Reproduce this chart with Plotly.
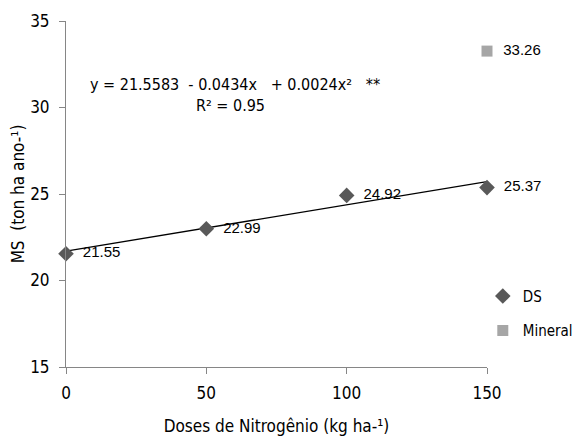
import numpy as np
import plotly.graph_objects as go

doses = [0, 50, 100, 150]
ds_values = [21.55, 22.99, 24.92, 25.37]
mineral_dose = [150]
mineral_values = [33.26]
x_ticks = [0, 50, 100, 150]
y_ticks = [15, 20, 25, 30, 35]

NARROW = "DejaVu Sans Condensed, Liberation Sans, Arial, sans-serif"
SANS = "Liberation Sans, Arial, sans-serif"

coef = np.polyfit(doses, ds_values, 1)
xfit = np.array([doses[0], doses[-1]])
yfit = np.polyval(coef, xfit)

fig = go.Figure()
fig.add_trace(go.Scatter(
    x=xfit, y=yfit, mode="lines", line=dict(color="#000000", width=1.3),
    showlegend=False, hoverinfo="skip", cliponaxis=False))
fig.add_trace(go.Scatter(
    x=doses, y=ds_values, mode="markers+text", name="DS",
    marker=dict(symbol="diamond", size=12, color="#595959"),
    text=["  " + f"{v:.2f}" for v in ds_values], textposition="middle right",
    textfont=dict(family=SANS, size=15, color="#000000"),
    cliponaxis=False, legendgroup="a"))
fig.add_trace(go.Scatter(
    x=mineral_dose, y=mineral_values, mode="markers+text", name="Mineral",
    marker=dict(symbol="square", size=11, color="#A6A6A6"),
    text=["  " + f"{v:.2f}" for v in mineral_values], textposition="middle right",
    textfont=dict(family=SANS, size=15, color="#000000"),
    cliponaxis=False, legendgroup="b"))

fig.add_annotation(
    x=0.052, y=0.817, xref="paper", yref="paper", xanchor="left", yanchor="middle",
    text="y = 21.5583  - 0.0434x   + 0.0024x²   **", showarrow=False,
    font=dict(family=NARROW, size=16, color="#000000"))
fig.add_annotation(
    x=0.39, y=0.756, xref="paper", yref="paper", xanchor="center", yanchor="middle",
    text="R² = 0.95", showarrow=False,
    font=dict(family=NARROW, size=16, color="#000000"))

# the page has an 8px body margin, so the figure is placed at (8, 8)
fig.update_layout(
    width=574, height=430,
    margin=dict(l=58, r=95, t=13, b=71, autoexpand=False),
    paper_bgcolor="white", plot_bgcolor="white",
    font=dict(family=NARROW, size=15, color="#000000"),
    legend=dict(x=0.99, xanchor="left", y=0.252, yanchor="top",
                font=dict(family=NARROW, size=15, color="#000000"),
                tracegroupgap=12, itemwidth=30, bgcolor="rgba(0,0,0,0)"),
    xaxis=dict(range=[0, 150], tickvals=x_ticks, ticks="outside", ticklen=6,
               tickcolor="#868686", showline=True, linecolor="#868686", linewidth=1,
               showgrid=False, zeroline=False, automargin=False,
               tickfont=dict(family=NARROW, size=17), ticklabelstandoff=5,
               title=dict(text="Doses de Nitrogênio (kg ha-¹)",
                          font=dict(family=NARROW, size=17), standoff=17)),
    yaxis=dict(range=[15, 35], tickvals=y_ticks, ticks="outside", ticklen=6,
               tickcolor="#868686", showline=True, linecolor="#868686", linewidth=1,
               showgrid=False, zeroline=False, automargin=False,
               tickfont=dict(family=NARROW, size=17), ticklabelstandoff=6,
               title=dict(text="MS  (ton ha ano-¹)",
                          font=dict(family=NARROW, size=17), standoff=3)),
)

fig.write_html("out.html")
